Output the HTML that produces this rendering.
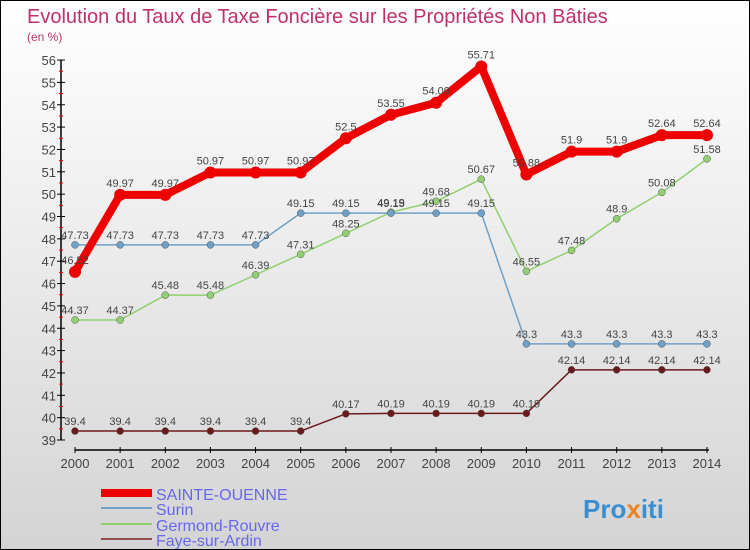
<!DOCTYPE html>
<html><head><meta charset="utf-8"><style>
body{margin:0}
#c{width:750px;height:550px;position:relative;box-sizing:border-box;border:1px solid #000;background:linear-gradient(#fff,#d4d4d4);font-family:"Liberation Sans",sans-serif;overflow:hidden}
svg text{font-family:"Liberation Sans",sans-serif}
</style></head><body>
<div id="c">
<svg id="s" width="748" height="548">
<text x="26" y="22" font-size="20" fill="#c0306a">Evolution du Taux de Taxe Foncière sur les Propriétés Non Bâties</text>
<text x="26" y="40" font-size="12" fill="#c0306a">(en %)</text>
<g id="g"></g>
<g>
<line x1="100" y1="492" x2="151" y2="492" stroke="#e00" stroke-width="8"/>
<text x="155" y="499" font-size="16" fill="#6666ee">SAINTE-OUENNE</text>
<line x1="100" y1="507" x2="151" y2="507" stroke="#6fa0c8" stroke-width="2"/>
<text x="155" y="514" font-size="16" fill="#6666ee">Surin</text>
<line x1="100" y1="523" x2="151" y2="523" stroke="#90d070" stroke-width="2"/>
<text x="155" y="530" font-size="16" fill="#6666ee">Germond-Rouvre</text>
<line x1="100" y1="538" x2="151" y2="538" stroke="#905050" stroke-width="2"/>
<text x="155" y="545" font-size="16" fill="#6666ee">Faye-sur-Ardin</text>
</g>
<text x="582" y="517" font-size="26" font-weight="bold" fill="#3a8fd0">Pro<tspan fill="#f08020">x</tspan>iti</text>
</svg></div>
<script>
const years=[2000,2001,2002,2003,2004,2005,2006,2007,2008,2009,2010,2011,2012,2013,2014];
const sainte=[46.52,49.97,49.97,50.97,50.97,50.97,52.5,53.55,54.09,55.71,50.88,51.9,51.9,52.64,52.64];
const surin=[47.73,47.73,47.73,47.73,47.73,49.15,49.15,49.15,49.15,49.15,43.3,43.3,43.3,43.3,43.3];
const germond=[44.37,44.37,45.48,45.48,46.39,47.31,48.25,49.19,49.68,50.67,46.55,47.48,48.9,50.08,51.58];
const faye=[39.4,39.4,39.4,39.4,39.4,39.4,40.17,40.19,40.19,40.19,40.19,42.14,42.14,42.14,42.14];
const yTicks=[39,40,41,42,43,44,45,46,47,48,49,50,51,52,53,54,55,56];
const NS="http://www.w3.org/2000/svg";
const g=document.getElementById('g');
const X=i=>74+i*45.14, Y=v=>439-(v-39)*22.35;
function el(t,a,p){const e=document.createElementNS(NS,t);for(const k in a)e.setAttribute(k,a[k]);(p||g).appendChild(e);return e;}
let ax=el('path',{d:`M60 ${Y(56)}V${Y(39)}M74 449H${X(14)+2}`,stroke:'#000','stroke-width':1.5,fill:'none'});


yTicks.forEach(v=>{
 el('line',{x1:56,x2:64,y1:Y(v),y2:Y(v),stroke:'#000'});
 if(v<56) el('line',{x1:58,x2:62,y1:Y(v+0.5),y2:Y(v+0.5),stroke:'#e00'});
 const t=el('text',{x:55,y:Y(v)+5,'font-size':13,fill:'#444','text-anchor':'end'});
 t.textContent=v;
 
 
});
years.forEach((yr,i)=>{
 el('line',{x1:X(i),x2:X(i),y1:446,y2:452,stroke:'#000'});
 const t=el('text',{x:X(i),y:467,'font-size':13,fill:'#444','text-anchor':'middle'});
 t.textContent=yr;
 
 
});
function series(data,color,w,r,name){
 const p=el('polyline',{points:data.map((v,i)=>X(i)+','+Y(v)).join(' '),fill:'none',stroke:color,'stroke-width':w,'stroke-linejoin':'round'});
 
 
 data.forEach((v,i)=>{
  const c=el('circle',{cx:X(i),cy:Y(v),r:r,fill:color,stroke:'#555','stroke-width':w>4?0:0.5});
  
  
  const t=el('text',{x:X(i),y:Y(v)-(w>4?8:6),'font-size':11,fill:'#444','text-anchor':'middle'});
  t.textContent=v;
  
  
 });
}
series(faye,'#6a1a1a',1.5,3.5,'faye');
series(germond,'#90d070',1.5,3.5,'germond');
series(surin,'#6fa0c8',1.5,3.5,'surin');
series(sainte,'#ee0000',8,6,'sainte-ouenne');
</script>
</body></html>
